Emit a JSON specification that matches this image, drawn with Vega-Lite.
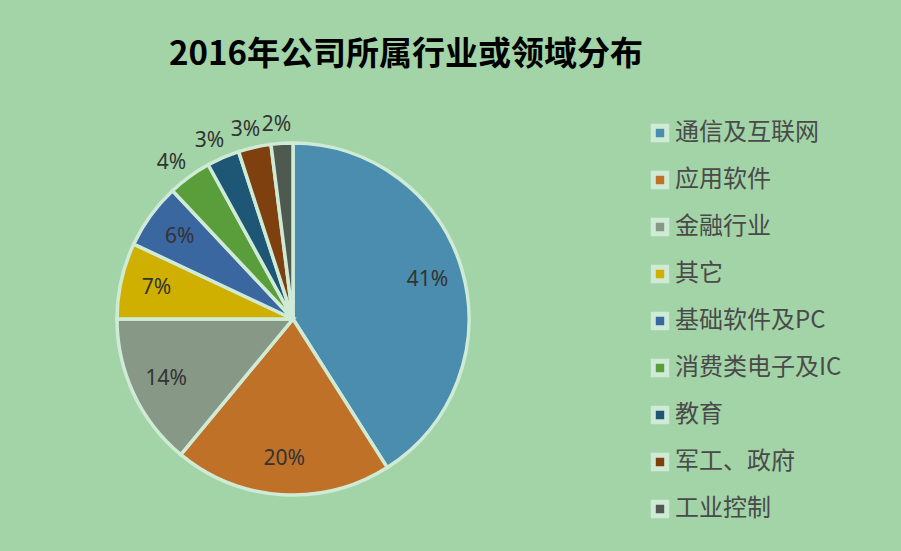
{
  "$schema": "https://vega.github.io/schema/vega-lite/v6.json",
  "width": 586,
  "height": 552,
  "autosize": "none",
  "padding": {"left": 0, "top": 43, "right": 315, "bottom": -44},
  "background": "#A2D4A8",
  "view": {"stroke": null},
  "title": {
    "text": "2016年公司所属行业或领域分布",
    "font": "Noto Sans CJK SC",
    "fontSize": 33,
    "fontWeight": "bold",
    "color": "#000000",
    "anchor": "middle",
    "frame": "group",
    "dx": 113,
    "offset": -29
  },
  "data": {
    "values": [
      {"name": "通信及互联网", "v": 0.41, "k": 1},
      {"name": "应用软件", "v": 0.20, "k": 2},
      {"name": "金融行业", "v": 0.14, "k": 3},
      {"name": "其它", "v": 0.07, "k": 4},
      {"name": "基础软件及PC", "v": 0.06, "k": 5},
      {"name": "消费类电子及IC", "v": 0.04, "k": 6},
      {"name": "教育", "v": 0.03, "k": 7},
      {"name": "军工、政府", "v": 0.03, "k": 8},
      {"name": "工业控制", "v": 0.02, "k": 9}
    ]
  },
  "encoding": {
    "theta": {"field": "v", "type": "quantitative", "stack": true},
    "order": {"field": "k", "type": "quantitative", "sort": "ascending"}
  },
  "layer": [
    {
      "mark": {"type": "arc", "outerRadius": 176, "stroke": "#CFEBD6", "strokeWidth": 3.5},
      "encoding": {
        "color": {
          "field": "name",
          "type": "nominal",
          "sort": null,
          "scale": {
            "domain": ["通信及互联网", "应用软件", "金融行业", "其它", "基础软件及PC", "消费类电子及IC", "教育", "军工、政府", "工业控制"],
            "range": ["#4A8DAF", "#C07128", "#879886", "#CFB000", "#3A67A0", "#5A9E3C", "#1E5676", "#7F400F", "#4E5A50"]
          },
          "legend": {
            "title": null,
            "orient": "none",
            "legendX": 648,
            "legendY": 78,
            "symbolType": "square",
            "symbolSize": 180,
            "symbolStrokeColor": "#CFEBD6",
            "symbolStrokeWidth": 5,
            "symbolOpacity": 1,
            "labelFont": "Noto Sans CJK SC",
            "labelFontSize": 24,
            "labelColor": "#4A4A4A",
            "labelOffset": 3,
            "rowPadding": 13,
            "labelLimit": 300
          }
        }
      }
    },
    {
      "mark": {"type": "text", "radius": 140, "font": "Noto Sans", "fontSize": 21, "color": "#333333"},
      "encoding": {
        "text": {"condition": {"test": "datum.v < 0.05", "value": ""}, "field": "v", "type": "quantitative", "format": ".0%"}
      }
    },
    {
      "mark": {"type": "text", "radius": 200, "dx": -4, "dy": 6, "font": "Noto Sans", "fontSize": 21, "color": "#333333"},
      "encoding": {
        "text": {"condition": {"test": "datum.v >= 0.05", "value": ""}, "field": "v", "type": "quantitative", "format": ".0%"}
      }
    }
  ]
}
